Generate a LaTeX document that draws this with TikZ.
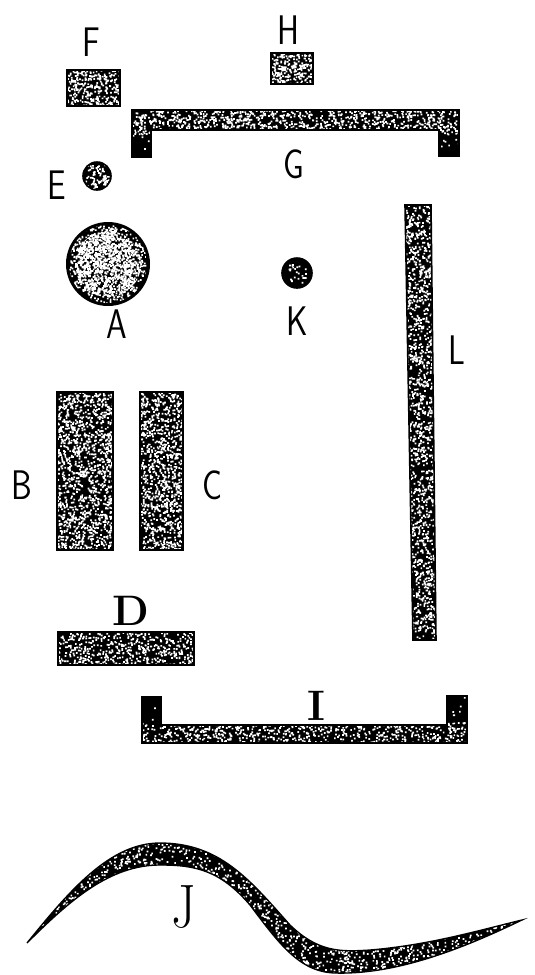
\documentclass[tikz,border=0pt]{standalone}
\newcommand{\speckle}[5]{\fill[white] \foreach \k in {1,...,#5}{({#1+rnd*#3},{#2+rnd*#4}) rectangle ++(1.7,1.7)};}
\begin{document}
\begin{tikzpicture}[x=0.75pt,y=-0.75pt,
  edge/.style={draw=black, line width=1.2pt},
  sanslab/.style={font=\sffamily\fontsize{31}{31}\selectfont, xscale=0.8, inner sep=0},
  seriflab/.style={font=\rmfamily\bfseries\fontsize{32}{32}\selectfont, inner sep=0},
  jlab/.style={font=\rmfamily\fontsize{46}{46}\selectfont, xscale=0.85, inner sep=0}]
\pgfmathsetseed{7}
\useasboundingbox (0,0) rectangle (535,975);
% F
\begin{scope}\clip (67,70) rectangle (120,106); \fill (67,70) rectangle (120,106); \speckle{67}{70}{53}{36}{300}\end{scope}
\draw[edge] (67,70) rectangle (120,106);
\node[sanslab] (F) at (91,42) {F};
% H
\begin{scope}\clip (271,53) rectangle (313,84); \fill (271,53) rectangle (313,84); \speckle{271}{53}{42}{31}{230}\end{scope}
\draw[edge] (271,53) rectangle (313,84);
\node[sanslab] (H) at (288,30) {H};
% G bracket
\begin{scope}\clip (132,110) -- (459,110) -- (459,156) -- (439,156) -- (439,130) -- (151,130) -- (151,157) -- (132,157) -- cycle;
\fill (132,110) rectangle (459,157); \speckle{132}{110}{327}{25}{1100}\speckle{132}{130}{327}{27}{120}\end{scope}
\draw[edge] (132,110) -- (459,110) -- (459,156) -- (439,156) -- (439,130) -- (151,130) -- (151,157) -- (132,157) -- cycle;
\node[sanslab] (G) at (294,164) {G};
% E
\begin{scope}\clip (97,176) circle (14); \fill (97,176) circle (14); \speckle{85}{164}{24}{24}{80}\end{scope}
\draw[edge] (97,176) circle (14);
\node[sanslab] (E) at (57,185) {E};
% A
\fill (108,264) circle (42);
\begin{scope}\clip (108,264) circle (39); \speckle{69}{225}{78}{78}{700}\end{scope}
\begin{scope}\clip (108,264) circle (33); \speckle{75}{231}{66}{66}{1100}\end{scope}
\node[sanslab] (A) at (117,324) {A};
% K
\begin{scope}\clip (297,273) circle (15); \fill (297,273) circle (15); \speckle{288}{264}{18}{18}{25}\end{scope}
\draw[edge] (297,273) circle (15);
\node[sanslab] (K) at (297,321) {K};
% L
\begin{scope}\clip (405,205) -- (431,205) -- (436,640) -- (413,640) -- cycle;
\fill (405,205) rectangle (436,640); \speckle{405}{205}{31}{435}{1600}\end{scope}
\draw[edge] (405,205) -- (431,205) -- (436,640) -- (413,640) -- cycle;
\node[sanslab] (L) at (457,350) {L};
% B and C
\begin{scope}\clip (57,392) rectangle (113,550); \fill (57,392) rectangle (113,550); \speckle{57}{392}{56}{158}{1300}\end{scope}
\draw[edge] (57,392) rectangle (113,550);
\begin{scope}\clip (140,392) rectangle (183,550); \fill (140,392) rectangle (183,550); \speckle{140}{392}{43}{158}{1000}\end{scope}
\draw[edge] (140,392) rectangle (183,550);
\node[sanslab] (B) at (22,485) {B};
\node[sanslab] (C) at (212,485) {C};
% D
\node[seriflab] (D) at (131,611) {D};
\begin{scope}\clip (58,632) rectangle (194,665); \fill (58,632) rectangle (194,665); \speckle{58}{632}{136}{33}{500}\end{scope}
\draw[edge] (58,632) rectangle (194,665);
% I bracket
\begin{scope}\clip (142,697) -- (161,697) -- (161,725) -- (447,725) -- (447,696) -- (467,696) -- (467,743) -- (142,743) -- cycle;
\fill (142,696) rectangle (467,743); \speckle{142}{722}{325}{21}{700}\speckle{142}{696}{325}{30}{60}\end{scope}
\draw[edge] (142,697) -- (161,697) -- (161,725) -- (447,725) -- (447,696) -- (467,696) -- (467,743) -- (142,743) -- cycle;
\node[seriflab] (I) at (316,706) {I};
% J worm
\begin{scope}
\clip (27,943) .. controls (70,890) and (110,843) .. (160,843)
  .. controls (220,843) and (250,880) .. (290,925)
  .. controls (318,952) and (340,952) .. (370,950)
  .. controls (430,945) and (480,930) .. (522,920)
  .. controls (470,945) and (400,975) .. (335,973)
  .. controls (300,972) and (280,945) .. (250,905)
  .. controls (220,870) and (195,865) .. (160,865)
  .. controls (110,865) and (70,900) .. (27,943) -- cycle;
\fill (27,840) rectangle (522,975);
\speckle{27}{840}{135}{105}{1000}
\speckle{160}{840}{190}{135}{1500}
\speckle{330}{915}{192}{60}{850}
\end{scope}
\draw[edge, line width=1pt] (27,943) .. controls (70,890) and (110,843) .. (160,843)
  .. controls (220,843) and (250,880) .. (290,925)
  .. controls (318,952) and (340,952) .. (370,950)
  .. controls (430,945) and (480,930) .. (522,920)
  .. controls (470,945) and (400,975) .. (335,973)
  .. controls (300,972) and (280,945) .. (250,905)
  .. controls (220,870) and (195,865) .. (160,865)
  .. controls (110,865) and (70,900) .. (27,943) -- cycle;
\node[jlab] (J) at (184,907) {J};
\end{tikzpicture}
\end{document}
